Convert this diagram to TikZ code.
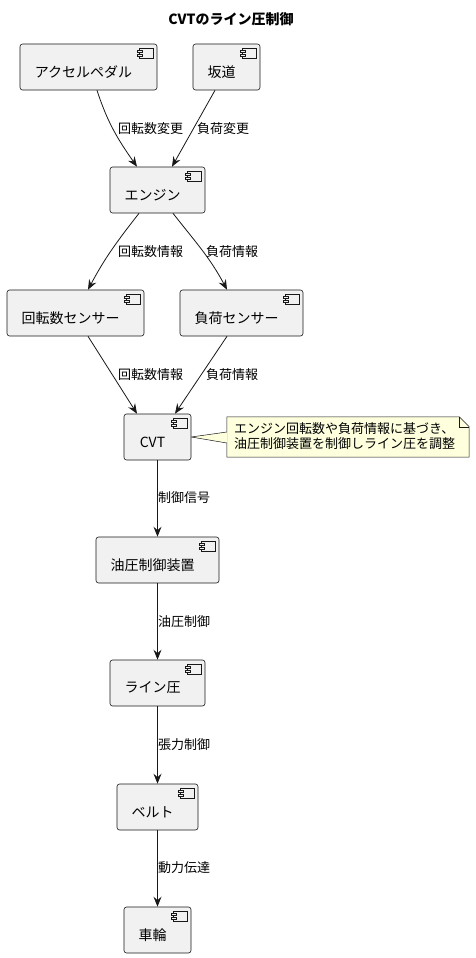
\documentclass[tikz,border=0pt]{standalone}
\usepackage{fontspec}
\setmainfont{Noto Sans CJK JP}
\usetikzlibrary{arrows.meta}
\definecolor{boxfill}{HTML}{F1F1F1}
\definecolor{boxline}{HTML}{181818}
\definecolor{notefill}{HTML}{FEFFDD}
\newcommand\mkcomp[5]{%
  \node[comp, minimum width=#4pt] (#1) at (#2,#3) {};
  \node[lbl] (#1t) at ([xshift=-5pt,yshift=-5pt]#1.center) {#5};
  \draw[icon] ([xshift=-18pt,yshift=-5pt]#1.north east) rectangle ([xshift=-4pt,yshift=-15pt]#1.north east);
  \draw[icon] ([xshift=-20pt,yshift=-7pt]#1.north east) rectangle ([xshift=-15pt,yshift=-9pt]#1.north east);
  \draw[icon] ([xshift=-20pt,yshift=-11pt]#1.north east) rectangle ([xshift=-15pt,yshift=-13pt]#1.north east);
}
\begin{document}
\begin{tikzpicture}[x=1pt,y=1pt,
  comp/.style={draw=boxline, fill=boxfill, line width=0.6pt, rounded corners=2.5pt, minimum height=46pt, inner sep=0},
  icon/.style={draw=boxline, fill=boxfill, line width=0.5pt},
  lbl/.style={font=\fontsize{14}{16}\selectfont, inner sep=0},
  elbl/.style={font=\fontsize{13}{15}\selectfont, anchor=west, inner sep=0},
  conn/.style={draw=boxline, line width=0.8pt, -{Stealth[length=10pt,width=8pt,inset=3.5pt]}},
]
\useasboundingbox (0,0) rectangle (475,-958);
\node[font=\bfseries\fontsize{14}{16}\selectfont, inner sep=0] (title) at (231,-19) {CVTのライン圧制御};

\mkcomp{acc}{88.5}{-67}{137}{アクセルペダル}
\mkcomp{slope}{226.5}{-67}{67}{坂道}
\mkcomp{eng}{157.5}{-190}{95}{エンジン}
\mkcomp{rot}{75.5}{-313}{137}{回転数センサー}
\mkcomp{load}{241.5}{-313}{123}{負荷センサー}
\mkcomp{cvt}{157.5}{-437}{67}{CVT}
\mkcomp{hyd}{157.5}{-560}{123}{油圧制御装置}
\mkcomp{line}{157.5}{-683}{95}{ライン圧}
\mkcomp{belt}{157.5}{-807}{81}{ベルト}
\mkcomp{wheel}{157.5}{-930}{67}{車輪}

% note
\node[inner sep=0, minimum width=242pt, minimum height=40pt] (note) at (348,-437) {};
\draw[draw=boxline, fill=notefill, line width=0.5pt] (note.north west) -- ([xshift=-10pt]note.north east) -- ([yshift=-10pt]note.north east) -- (note.south east) -- (note.south west) -- cycle;
\draw[draw=boxline, line width=0.5pt] ([xshift=-10pt]note.north east) |- ([yshift=-10pt]note.north east);
\fill[notefill] (cvt.east) -- ([yshift=5pt,xshift=0.6pt]note.west) -- ([yshift=-6pt,xshift=0.6pt]note.west) -- cycle;
\draw[boxline, line width=0.5pt] (cvt.east) -- ([yshift=5pt]note.west);
\draw[boxline, line width=0.5pt] (cvt.east) -- ([yshift=-6pt]note.west);
\node[font=\fontsize{13}{15.5}\selectfont, align=left, anchor=west, inner sep=0] (notet) at (234,-436) {エンジン回転数や負荷情報に基づき、\\油圧制御装置を制御しライン圧を調整};

% connectors
\draw[conn] ([xshift=8.5pt]acc.south) to[out=-72,in=125] ([xshift=-20.5pt]eng.north);
\draw[conn] ([xshift=-11.5pt]slope.south) -- ([xshift=14.5pt]eng.north);
\draw[conn] ([xshift=-18.5pt]eng.south) to[out=-128,in=62] ([xshift=12.5pt]rot.north);
\draw[conn] ([xshift=15.5pt]eng.south) to[out=-52,in=118] ([xshift=-14.5pt]load.north);
\draw[conn] ([xshift=12.5pt]rot.south) -- ([xshift=-20.5pt]cvt.north);
\draw[conn] ([xshift=-14.5pt]load.south) -- ([xshift=17.5pt]cvt.north);
\draw[conn] (cvt) -- (hyd);
\draw[conn] (hyd) -- (line);
\draw[conn] (line) -- (belt);
\draw[conn] (belt) -- (wheel);

% edge labels
\node[elbl] (l1) at (118,-129) {回転数変更};
\node[elbl] (l2) at (197,-129) {負荷変更};
\node[elbl] (l3) at (118,-252) {回転数情報};
\node[elbl] (l4) at (206,-252) {負荷情報};
\node[elbl] (l5) at (118,-375) {回転数情報};
\node[elbl] (l6) at (206,-375) {負荷情報};
\node[elbl] (l7) at (158,-498) {制御信号};
\node[elbl] (l8) at (158,-622) {油圧制御};
\node[elbl] (l9) at (158,-745) {張力制御};
\node[elbl] (l10) at (158,-868) {動力伝達};
\end{tikzpicture}
\end{document}
